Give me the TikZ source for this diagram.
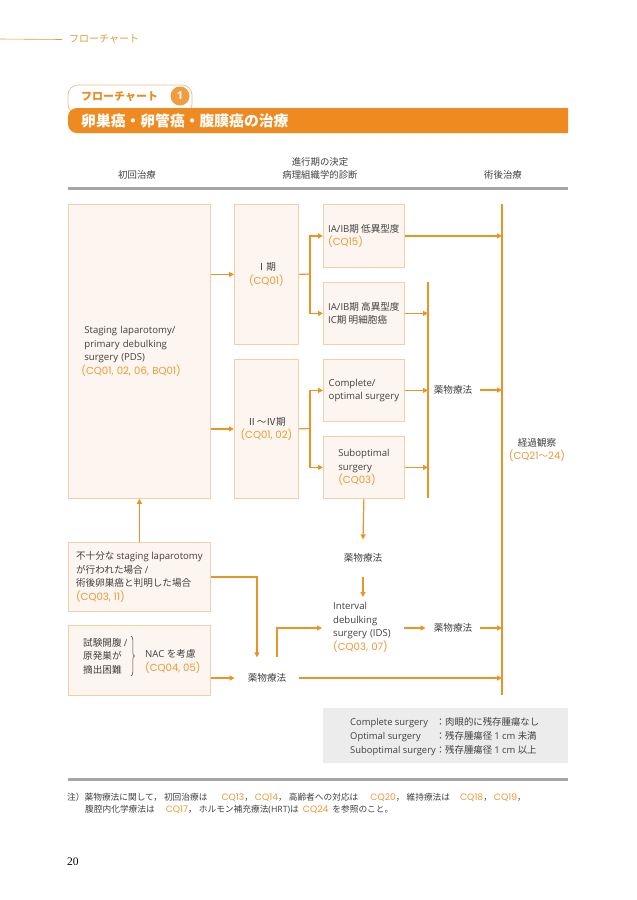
\documentclass[tikz,border=0pt]{standalone}
\usepackage{fontspec}
\setmainfont{Open Sans}
\newfontfamily\jpf{Noto Sans CJK JP}
\newfontfamily\latfam{Open Sans}
\newfontfamily\cqfam{Poppins}[Scale=1.06]
\newfontfamily\serifnum{Liberation Serif}
\newif\ifcqmode
\newcommand\latf{\ifcqmode\cqfam\else\latfam\fi}
\XeTeXinterchartokenstate=1
\chardef\jpcls=7
\newcount\ccnt
\ccnt="2160 \loop\XeTeXcharclass\ccnt=\jpcls \ifnum\ccnt<"216F \advance\ccnt by 1 \repeat
\ccnt="3000 \loop\XeTeXcharclass\ccnt=\jpcls \ifnum\ccnt<"9FFF \advance\ccnt by 1 \repeat
\ccnt="FF00 \loop\XeTeXcharclass\ccnt=\jpcls \ifnum\ccnt<"FFEF \advance\ccnt by 1 \repeat
\XeTeXinterchartoks 0 \jpcls = {\jpf}
\XeTeXinterchartoks 4095 \jpcls = {\jpf}
\XeTeXinterchartoks \jpcls 0 = {\latf}
\XeTeXinterchartoks 4095 0 = {\latf}
\usetikzlibrary{arrows.meta,decorations.pathreplacing}
\definecolor{arrowc}{HTML}{E99526}
\definecolor{cqc}{HTML}{EA9A33}
\definecolor{boxfill}{HTML}{FDF5EF}
\definecolor{boxline}{HTML}{F2CFA8}
\definecolor{textc}{HTML}{404040}
\definecolor{barc}{HTML}{EE8A1F}
\definecolor{rulec}{HTML}{A6A6A6}
\definecolor{legc}{HTML}{ECECEC}
\definecolor{headc}{HTML}{E39A3C}
\newcommand\bxfont{\fontsize{9.6}{13.6}\selectfont}
\newcommand\cq[1]{{\cqmodetrue\cqfam\color{cqc}#1}}
\newcommand\cm{，\hspace{2pt}}
\begin{document}
\begin{tikzpicture}[x=1pt,y=-1pt,
  box/.style={draw=boxline, fill=boxfill, line width=0.8pt, anchor=north west,
    font=\bxfont, text=textc, align=left, inner sep=0pt},
  txt/.style={font=\bxfont, text=textc, align=left, inner sep=0pt},
  drug/.style={txt, inner xsep=8pt},
  arr/.style={draw=arrowc, line width=1.2pt, -{Triangle[length=5pt,width=5pt]}},
  ln/.style={draw=arrowc, line width=1.2pt},
  colhead/.style={font=\fontsize{9.4}{12}\selectfont, text=textc, align=center, inner sep=0pt},
  note/.style={font=\fontsize{8.7}{12}\selectfont, text=textc, anchor=west, inner sep=0pt}]
\useasboundingbox (0,0) rectangle (637,900);
\fill[white] (0,0) rectangle (637,900);

% top header
\coordinate (hl0) at (0,39);
\node[font=\fontsize{10}{11}\selectfont, text=headc, anchor=west, inner sep=0pt] (hdr) at (69,39.5) {フローチャート};
\draw[headc, line width=0.6pt] (hl0) -- ([xshift=-7pt]hdr.west);

% pill and title bar
\draw[boxline!70!headc, line width=0.7pt, fill=white, rounded corners=10pt] (68,85) rectangle (192,114);
\node[font=\bfseries\fontsize{11}{12}\selectfont, text=barc, anchor=west, inner sep=0pt] (pill) at (81,96.5) {フローチャート};
\node[circle, fill=barc!85!white, minimum size=19pt, inner sep=0pt, text=white, font=\bfseries\fontsize{11}{12}\selectfont] (one) at (180,96) {1};
\fill[barc] (568,108) -- (568,133) -- (77,133) .. controls (72,133) and (68,129) .. (68,124) -- (68,117) .. controls (68,112) and (72,108) .. (77,108) -- cycle;
\node[font=\bfseries\fontsize{14.8}{16}\selectfont, text=white, anchor=west, inner sep=0pt] (title) at (81,120.5) {卵巣癌・卵管癌・腹膜癌の治療};

% column headers
\node[colhead] (h1) at (137,175) {初回治療};
\node[colhead] (h2a) at (320,162) {進行期の決定};
\node[colhead] (h2b) at (320,175) {病理組織学的診断};
\node[colhead] (h3) at (503,175) {術後治療};
\draw[rulec, line width=3pt] (68,188) -- (568,188);

% boxes
\node[box, minimum width=142, minimum height=294, text width=116, inner xsep=13pt] (pds) at (68,204)
  {\hspace{3pt}Staging laparotomy/\\\hspace{3pt}primary debulking\\\hspace{3pt}surgery (PDS)\\\cq{(CQ01, 02, 06, BQ01)}};
\node[box, minimum width=64, minimum height=140, align=center] (s1) at (234,204)
  {Ⅰ期\\\cq{(CQ01)}};
\node[box, minimum width=64, minimum height=139, align=center] (s2) at (234,359)
  {Ⅱ～Ⅳ期\\\cq{(CQ01, 02)}};
\node[box, minimum width=81, minimum height=63] (a1) at (323,204)
  {IA/IB期 低異型度\\\cq{(CQ15)}};
\node[box, minimum width=81, minimum height=62] (a2) at (323,282)
  {IA/IB期 高異型度\\IC期 明細胞癌};
\node[box, minimum width=81, minimum height=62] (c1) at (323,359)
  {Complete/\\optimal surgery};
\node[box, minimum width=81, minimum height=62] (c2) at (323,436)
  {Suboptimal\\surgery\\\cq{(CQ03)}};
\node[box, minimum width=142, minimum height=69] (ins) at (68,542)
  {不十分な staging laparotomy\\が行われた場合 /\\術後卵巣癌と判明した場合\\\cq{(CQ03, 11)}};
\node[box, minimum width=142, minimum height=70] (nac) at (68,625) {};
\node[txt, anchor=west] (nacl) at (83,656) {試験開腹 /\\原発巣が\\摘出困難};
\node[txt, anchor=west] (nacr) at (145,661.5) {NAC を考慮\\\cq{(CQ04, 05)}};
\draw[textc, line width=0.5pt, decorate, decoration={brace, amplitude=3.5pt}] (131,636) -- (131,676);

% free text nodes
\node[drug] (y1) at (453,390) {薬物療法};
\node[txt, inner xsep=8pt, inner ysep=14pt] (y2) at (363,558) {薬物療法};
\node[txt, anchor=north west, inner xsep=11pt, inner ysep=0pt, text width=60] (ids) at (322,602)
  {Interval\\debulking\\surgery (IDS)\\\cq{(CQ03, 07)}};
\node[drug] (y3) at (453,628) {薬物療法};
\node[txt, inner xsep=13pt, inner ysep=16pt] (y4) at (267,678) {薬物療法};
\node[txt, align=center] (fo) at (537,450) {経過観察\\\cq{(CQ21～24)}};

% coordinates for vertical lines
\coordinate (fu) at (502,204);
\coordinate (fb) at (502,695);
\coordinate (d1) at (428,282);
\coordinate (d2) at (428,498);
\coordinate (b1) at (310,274);
\coordinate (b2) at (310,428.5);

% connectors
\draw[ln] (fu) -- (fb);
\draw[ln] (d1) -- (d2);
\draw[arr] (s1.west -| pds.east) -- (s1.west);
\draw[arr] (s2.west -| pds.east) -- (s2.west);
\draw[ln] (s1.east) -- (b1);
\draw[arr] (b1) |- (a1.west);
\draw[arr] (b1) |- (a2.west);
\draw[ln] (s2.east) -- (b2);
\draw[arr] (b2) |- (c1.west);
\draw[arr] (b2) |- (c2.west);
\draw[arr] (a1.east) -- (a1.east -| fu);
\draw[arr] (a2.east) -- (a2.east -| d1);
\draw[arr] (c1.east) -- (c1.east -| d1);
\draw[arr] (c2.east) -- (c2.east -| d1);
\draw[arr] (y1.east) -- (y1.east -| fu);
\draw[arr] (c2.south) -- (y2.north);
\draw[arr] (y2.south) -- ([yshift=5pt]ids.north -| y2.south);
\draw[arr] (ids.east |- y3.west) -- (y3.west);
\draw[arr] (y3.east) -- (y3.east -| fu);
\draw[arr] (ins.north) -- (pds.south);
\draw[arr] (ins.east) -| ([xshift=-10pt]y4.north);
\draw[arr] ([xshift=10pt]y4.north) |- (ids.west |- y3.west);
\draw[arr] (nac.east |- y4.west) -- (y4.west);
\draw[arr] (y4.east) -- (y4.east -| fu);

% legend
\node[fill=legc, minimum width=245, minimum height=55, anchor=north west, inner sep=0pt] (lg) at (323,708) {};
\node[font=\fontsize{9.4}{14}\selectfont, text=textc, anchor=west, inner sep=0pt] (lgt) at (350,737)
  {\begin{tabular}{@{}l@{}l@{}}
   Complete surgery & ：肉眼的に残存腫瘍なし\\
   Optimal surgery & ：残存腫瘍径 1 cm 未満\\
   Suboptimal surgery & ：残存腫瘍径 1 cm 以上
   \end{tabular}};

% footnote
\draw[rulec, line width=3pt] (68,779) -- (568,779);
\node[note] (n1) at (67,797)
  {注）薬物療法に関して\cm 初回治療は\hspace{14pt}\cq{CQ13}\cm\cq{CQ14}\cm 高齢者への対応は\hspace{12pt}\cq{CQ20}\cm 維持療法は\hspace{10pt}\cq{CQ18}\cm\cq{CQ19}，};
\node[note] (n2) at (85,810)
  {腹腔内化学療法は\hspace{11pt}\cq{CQ17}\cm ホルモン補充療法(HRT)は\hspace{4pt}\cq{CQ24}\hspace{4pt}を参照のこと。};
\node[font=\serifnum\fontsize{11.5}{12}\selectfont, text=black, anchor=west, inner sep=0pt] (pg) at (67,862) {\XeTeXinterchartokenstate=0 20};
\end{tikzpicture}
\end{document}
